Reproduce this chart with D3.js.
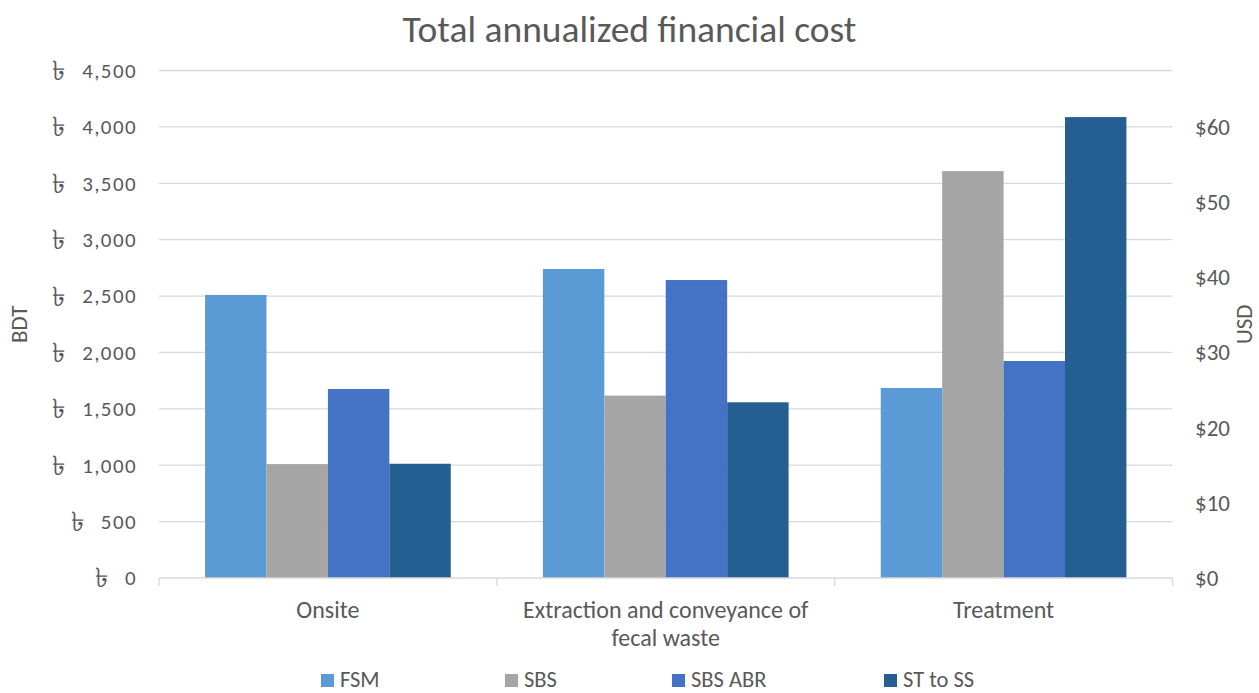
<!DOCTYPE html>
<html>
<head>
<meta charset="utf-8">
<script src="https://cdn.jsdelivr.net/npm/d3@7/dist/d3.min.js"></script>
<style>
  html, body { margin: 0; padding: 0; background: #fff; }
  svg { display: block; }
  text { font-family: Carlito, Lato, "Noto Sans", sans-serif; fill: #595959; }
</style>
</head>
<body>
<script>
// ---- data ----
const categories = ["Onsite", "Extraction and conveyance of fecal waste", "Treatment"];
const categoryLines = [["Onsite"], ["Extraction and conveyance of", "fecal waste"], ["Treatment"]];
const seriesNames = ["FSM", "SBS", "SBS ABR", "ST to SS"];
const fsm     = [2510, 2740, 1685];
const sbs     = [1010, 1617, 3608];
const sbsAbr  = [1676, 2642, 1924];
const stToSs  = [1013, 1558, 4087];
const bdtTicks = [0, 500, 1000, 1500, 2000, 2500, 3000, 3500, 4000, 4500];
const usdTicks = [0, 10, 20, 30, 40, 50, 60];
const bdtPerUsd = 66.67;
const seriesColors = ["#5B9BD5", "#A5A5A5", "#4472C4", "#255E91"];

// ---- layout ----
const W = 1259, H = 693;
const plot = { left: 159, right: 1172.5, top: 70.5, bottom: 578 };
const legendX = [321, 505, 672, 884];

const svg = d3.select("body").append("svg").attr("width", W).attr("height", H);

const x0 = d3.scaleBand().domain(categories).range([plot.left, plot.right]).paddingInner(0).paddingOuter(0);
const x1 = d3.scaleBand().domain(seriesNames).range([0, x0.bandwidth()]).paddingInner(0).paddingOuter(0.75);
const y = d3.scaleLinear().domain([0, 4500]).range([plot.bottom, plot.top]);
const y2 = d3.scaleLinear().domain([0, 4500 / bdtPerUsd]).range([plot.bottom, plot.top]);
const color = d3.scaleOrdinal().domain(seriesNames).range(seriesColors);

// gridlines
svg.append("g").selectAll("line").data(bdtTicks.filter(d => d > 0)).join("line")
  .attr("x1", plot.left).attr("x2", plot.right)
  .attr("y1", d => y(d)).attr("y2", d => y(d))
  .attr("stroke", "#D9D9D9").attr("stroke-width", 1.3);

// bars
const table = categories.map((c, i) => ({
  cat: c,
  vals: [fsm[i], sbs[i], sbsAbr[i], stToSs[i]].map((v, j) => ({ s: seriesNames[j], v }))
}));
const groups = svg.append("g").selectAll("g").data(table).join("g")
  .attr("transform", d => `translate(${x0(d.cat)},0)`);
groups.selectAll("rect").data(d => d.vals).join("rect")
  .attr("x", d => x1(d.s)).attr("width", x1.bandwidth())
  .attr("y", d => y(d.v)).attr("height", d => y(0) - y(d.v))
  .attr("fill", d => color(d.s));

// category axis
const xAxis = svg.append("g");
xAxis.append("line").attr("x1", plot.left).attr("x2", plot.right)
  .attr("y1", plot.bottom).attr("y2", plot.bottom)
  .attr("stroke", "#D9D9D9").attr("stroke-width", 1.3);
const bounds = categories.map(c => x0(c)).concat([plot.right]);
xAxis.selectAll("line.tk").data(bounds).join("line").attr("class", "tk")
  .attr("x1", d => d).attr("x2", d => d)
  .attr("y1", plot.bottom).attr("y2", plot.bottom + 8)
  .attr("stroke", "#D9D9D9").attr("stroke-width", 1.3);
categories.forEach((c, i) => {
  const t = xAxis.append("text").attr("text-anchor", "middle")
    .attr("x", x0(c) + x0.bandwidth() / 2).attr("y", 618)
    .style("font-size", "24px");
  categoryLines[i].forEach((ln, k) => {
    t.append("tspan").attr("x", x0(c) + x0.bandwidth() / 2).attr("dy", k === 0 ? 0 : 28).text(ln);
  });
});

// left axis labels
const fmt = d3.format(",");
const left = svg.append("g");
bdtTicks.forEach(d => {
  const g = left.append("g");
  const num = g.append("text").attr("x", 137).attr("y", y(d)).attr("dy", "0.35em")
    .attr("text-anchor", "end").style("font-size", "21px").style("letter-spacing", "1.4px")
    .text(fmt(d));
  const w = num.node().getComputedTextLength();
  g.append("text").attr("x", 137 - w - 17).attr("y", y(d)).attr("dy", "0.35em")
    .attr("text-anchor", "end").style("font-size", "27px").text("\u09F3");
});

// right axis labels
const right = svg.append("g");
right.selectAll("text").data(usdTicks).join("text")
  .attr("x", 1195).attr("y", d => y2(d)).attr("dy", "0.35em")
  .style("font-size", "23px").text(d => "$" + d);

// axis titles
svg.append("text").attr("transform", `translate(27,${(plot.top + plot.bottom) / 2}) rotate(-90)`)
  .attr("text-anchor", "middle").style("font-size", "23px").text("BDT");
svg.append("text").attr("transform", `translate(1252,${(plot.top + plot.bottom) / 2}) rotate(-90)`)
  .attr("text-anchor", "middle").style("font-size", "23px").text("USD");

// title
svg.append("text").attr("x", W / 2).attr("y", 42).attr("text-anchor", "middle")
  .style("font-size", "37.5px").text("Total annualized financial cost");

// legend
const lg = svg.append("g").selectAll("g").data(seriesNames).join("g")
  .attr("transform", (d, i) => `translate(${legendX[i]},0)`);
lg.append("rect").attr("x", 0).attr("y", 674).attr("width", 13).attr("height", 13)
  .attr("fill", d => color(d));
lg.append("text").attr("x", 19).attr("y", 687).style("font-size", "22.5px").text(d => d);
</script>
</body>
</html>
